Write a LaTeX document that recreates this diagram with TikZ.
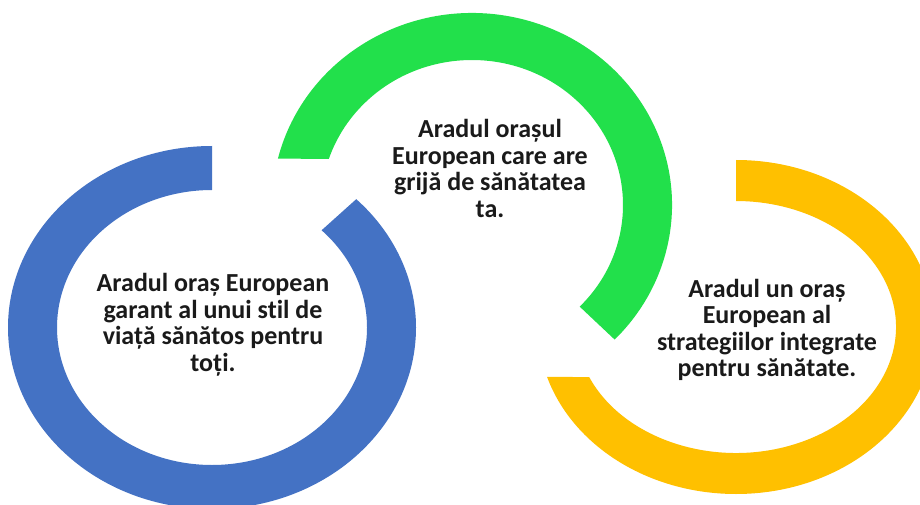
\documentclass[tikz,border=0pt]{standalone}
\usepackage{fontspec}
\setmainfont{Carlito}[Ligatures=NoCommon]
\definecolor{ringblue}{HTML}{4472C4}
\definecolor{ringgreen}{HTML}{22E04B}
\definecolor{ringyellow}{HTML}{FFC000}
\definecolor{txt}{HTML}{1A1A1A}
\tikzset{
  lbl/.style={align=center, text=txt, inner sep=0pt, font=\bfseries\fontsize{26}{26.5}\selectfont}
}
\begin{document}
\begin{tikzpicture}
\useasboundingbox (0pt,0pt) rectangle (920pt,504pt);
\clip (0pt,0pt) rectangle (920pt,504pt);
\fill[white] (0pt,0pt) rectangle (920pt,504pt);
% blue ring
\fill[ringblue, shift={(212pt,176.5pt)}]
  (90:204pt and 181.5pt) arc[start angle=90, end angle=405, x radius=204pt, y radius=181.5pt]
  -- (405:155pt and 137.5pt) arc[start angle=405, end angle=90, x radius=155pt, y radius=137.5pt] -- cycle;
% green ring
\fill[ringgreen, shift={(472pt,299pt)}]
  (166:200pt and 192pt) arc[start angle=166, end angle=-44.5, x radius=200pt, y radius=192pt]
  -- (-44.5:151pt and 145pt) arc[start angle=-44.5, end angle=161.5, x radius=151pt, y radius=145pt] -- cycle;
% yellow ring
\fill[ringyellow, shift={(736pt,177pt)}]
  (90:198pt and 167pt) arc[start angle=90, end angle=-162.6, x radius=198pt, y radius=167pt]
  -- (-156.6:160pt and 126pt) arc[start angle=-156.6, end angle=90, x radius=160pt, y radius=126pt] -- cycle;
% texts
\node[lbl] (tblue) at (213pt,179pt) {Aradul oraș European\\garant al unui stil de\\viață sănătos pentru\\toți.};
\node[lbl] (tgreen) at (490pt,335.5pt) {Aradul orașul\\European care are\\grijă de sănătatea\\ta.};
\node[lbl] (tyellow) at (767pt,174pt) {Aradul un oraș\\European al\\strategiilor integrate\\pentru sănătate.};
\end{tikzpicture}
\end{document}
